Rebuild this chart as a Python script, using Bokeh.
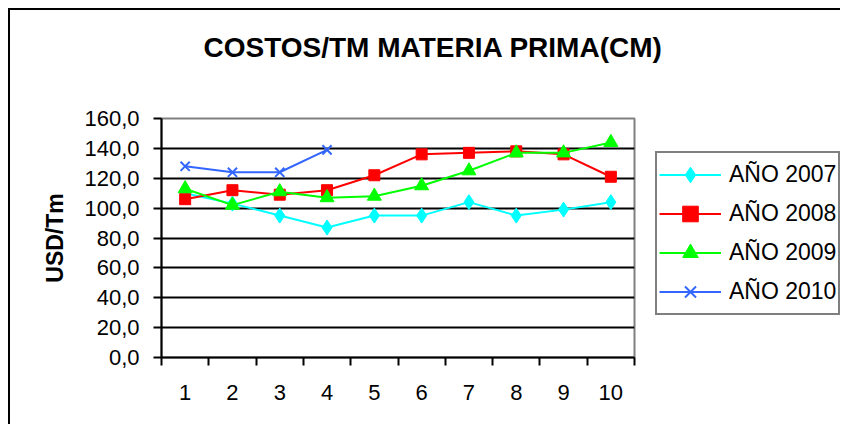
import numpy as np
from bokeh.plotting import figure
from bokeh.layouts import row, column
from bokeh.models import FixedTicker, Legend, LegendItem, Title, Range1d
from bokeh.embed import file_html
from bokeh.resources import INLINE

# ---- data ----
months = [1, 2, 3, 4, 5, 6, 7, 8, 9, 10]
months_2010 = [1, 2, 3, 4]
y2007 = [110, 103, 95, 87, 95, 95, 104, 95, 99, 104]
y2008 = [106, 112, 109, 112, 122, 136, 137, 138, 136, 121]
y2009 = [113, 102, 111, 107, 108, 115, 125, 137, 137, 144]
y2010 = [128, 124, 124, 139]
series_names = ["AÑO 2007", "AÑO 2008", "AÑO 2009", "AÑO 2010"]
y_ticks = [0, 20, 40, 60, 80, 100, 120, 140, 160]
y_tick_labels = ["0,0", "20,0", "40,0", "60,0", "80,0", "100,0", "120,0", "140,0", "160,0"]
x_tick_labels = [str(m) for m in months]
title_text = "COSTOS/TM  MATERIA PRIMA(CM)"
y_label = "USD/Tm"

FONT = "Liberation Sans"
c07, c08, c09, c10 = "#00FFFF", "#FF0000", "#00FF00", "#3366FF"


def blank(fig):
    fig.axis.visible = False
    fig.grid.visible = False
    fig.outline_line_color = None
    fig.background_fill_color = "white"
    fig.border_fill_color = "white"


# ---------------- title strip ----------------
t = figure(frame_width=473, frame_height=3, x_range=Range1d(0, 1), y_range=Range1d(0, 1),
           output_backend="svg", toolbar_location=None, title=None,
           min_border_left=151, min_border_right=206, min_border_top=57, min_border_bottom=0)
blank(t)
t.add_layout(Title(text=title_text, align="left", offset=42,
                   text_font=FONT, text_font_size="28px", text_font_style="bold",
                   text_color="black"), "above")

# ---------------- main chart ----------------
p = figure(frame_width=473, frame_height=239,
           x_range=Range1d(0.5, 10.5), y_range=Range1d(0, 160),
           output_backend="svg", toolbar_location=None, title=None,
           min_border_left=151, min_border_right=20,
           min_border_top=48, min_border_bottom=67)

p.background_fill_color = "white"
p.border_fill_color = "white"
p.outline_line_color = "#808080"
p.outline_line_width = 2

xa = p.below[0]
ya = p.left[0]

# x axis
xa.ticker = FixedTicker(ticks=months, minor_ticks=[m - 0.5 for m in months] + [10.5])
xa.major_label_overrides = {m: lab for m, lab in zip(months, x_tick_labels)}
xa.major_tick_line_color = None
xa.major_tick_out = 0
xa.minor_tick_line_color = "black"
xa.minor_tick_line_width = 2
xa.minor_tick_out = 8
xa.minor_tick_in = 0
xa.axis_line_color = "black"
xa.axis_line_width = 2
xa.major_label_text_font = FONT
xa.major_label_text_font_size = "22px"
xa.major_label_text_color = "black"
xa.major_label_standoff = 19

# y axis
ya.ticker = FixedTicker(ticks=y_ticks, minor_ticks=[])
ya.major_label_overrides = {tk: lab for tk, lab in zip(y_ticks, y_tick_labels)}
ya.major_tick_line_color = "black"
ya.major_tick_line_width = 2
ya.major_tick_out = 8
ya.major_tick_in = 0
ya.axis_line_color = "black"
ya.axis_line_width = 2
ya.major_label_text_font = FONT
ya.major_label_text_font_size = "22px"
ya.major_label_text_color = "black"
ya.major_label_standoff = 14
ya.axis_label = y_label
ya.axis_label_text_font = FONT
ya.axis_label_text_font_size = "23px"
ya.axis_label_text_font_style = "bold"
ya.axis_label_text_color = "black"
ya.axis_label_standoff = 13

# grids
p.xgrid.grid_line_color = None
p.ygrid.ticker = FixedTicker(ticks=y_ticks[1:-1])
p.ygrid.grid_line_color = "black"
p.ygrid.grid_line_width = 2
p.ygrid.grid_line_alpha = 1.0

# series
p.line(months, y2007, line_color=c07, line_width=2)
p.scatter(months, y2007, marker="diamond", size=15, fill_color=c07, line_color=c07)
p.line(months, y2008, line_color=c08, line_width=2)
p.scatter(months, y2008, marker="square", size=11, fill_color=c08, line_color=c08)
p.line(months, y2009, line_color=c09, line_width=2)
p.scatter(months, y2009, marker="triangle", size=14, fill_color=c09, line_color=c09)
p.line(months_2010, y2010, line_color=c10, line_width=2)
p.scatter(months_2010, y2010, marker="x", size=13, line_color=c10, line_width=2)

# ---------------- legend panel ----------------
# (its renderers reuse the first value of each series, which lies outside this
#  panel's 0..1 ranges, so only the legend entries are visible)
q = figure(width=186, height=354, x_range=Range1d(0, 1), y_range=Range1d(0, 1),
           output_backend="svg", toolbar_location=None, title=None, min_border=0)
blank(q)

series_first = [(months[0], y2007[0]), (months[0], y2008[0]),
                (months[0], y2009[0]), (months_2010[0], y2010[0])]
styles = [
    dict(color=c07, marker="diamond", size=15),
    dict(color=c08, marker="square", size=11),
    dict(color=c09, marker="triangle", size=14),
    dict(color=c10, marker="x", size=13),
]
items = []
for name, st, (fx, fy) in zip(series_names, styles, series_first):
    lr = q.line([fx, fx], [fy, fy], line_color=st["color"], line_width=2)
    if st["marker"] == "x":
        mr = q.scatter([fx], [fy], marker="x", size=st["size"], line_color=st["color"], line_width=2)
    else:
        mr = q.scatter([fx], [fy], marker=st["marker"], size=st["size"],
                       fill_color=st["color"], line_color=st["color"])
    items.append(LegendItem(label=name, renderers=[lr, mr]))

legend = Legend(items=items, location=(1, 42))
legend.border_line_color = "black"
legend.border_line_width = 2
legend.background_fill_color = "white"
legend.label_text_font = FONT
legend.label_text_font_size = "23px"
legend.label_text_color = "black"
legend.glyph_width = 62
legend.glyph_height = 39
legend.label_height = 39
legend.label_standoff = 8
legend.spacing = 0
legend.padding = 2
legend.margin = 0
legend.click_policy = "none"
q.add_layout(legend, "center")

layout = column(t, row(p, q, spacing=0), spacing=0,
                styles={"margin-left": "8px", "margin-top": "8px",
                        "border-left": "2px solid black", "border-top": "2px solid black"})

open("out.html", "w").write(file_html(layout, INLINE))
